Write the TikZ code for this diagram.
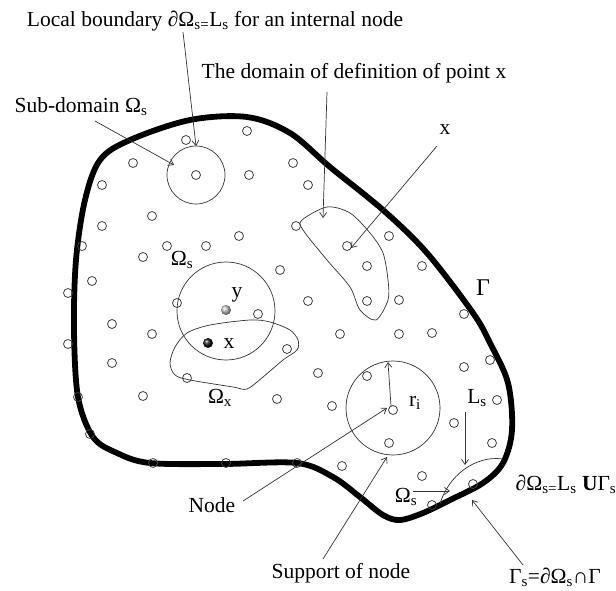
\documentclass[tikz,border=0pt]{standalone}
\usepackage{fontspec}
\setmainfont{Liberation Serif}
\usetikzlibrary{arrows.meta}
\tikzset{
  pt/.style={draw=black!75, line width=0.8pt},
  zone/.style={draw=black!80, line width=0.7pt},
  arr/.style={draw=black!80, line width=0.7pt, -{Straight Barb[length=5pt,width=7pt]}},
  lab/.style={font=\fontsize{21.5}{25}\selectfont, inner sep=0pt},
}
\begin{document}
\begin{tikzpicture}[x=1pt, y=-1pt]
  \useasboundingbox (0,0) rectangle (616,591);
  % Frontera Gamma
  \draw[line width=5.8pt, line join=round] plot[smooth cycle, tension=0.55] coordinates {
    (190,120) (130,140) (100,160) (85,200) (76,260) (74,330) (78,397) (93,437) (117,453)
    (150,463) (223,464) (297,463) (333,477) (360,497) (383,515) (400,520) (423,513)
    (450,500) (483,483) (503,463) (512,430) (508,383) (490,343) (473,313) (427,253)
    (383,210) (330,167) (290,133) (247,117)};
  % Nodos
  \foreach \p in {(186,140),(247,131),(133,163),(196,175),(249,175),(102,185),(152,216),
    (102,226),(82,246),(167,246),(206,246),(239,236),(143,257),(92,281),(68,293),(177,303),
    (258,314),(293,163),(308,185),(296,226),(347,246),(389,236),(367,266),(422,266),
    (280,270),(308,301),(367,301),(399,300),(464,314),(112,324),(152,334),(68,344),
    (287,349),(112,363),(187,378),(143,396),(277,399),(78,397),(90,434),(153,463),
    (226,463),(297,463),(340,334),(399,334),(432,333),(318,373),(367,376),(393,410),
    (332,406),(464,367),(490,360),(497,400),(454,423),(492,443),(389,443),(342,466),
    (422,476),(432,505),(473,484)}
    \draw[pt] \p circle (4.5pt);
  % Subdominio y soporte
  \draw[zone] (196,175) circle (29pt);
  \draw[zone] (226,311) circle (49pt);
  \draw[zone] (393,408) circle (47pt);
  % Dominio Omega_x
  \draw[zone] plot[smooth cycle, tension=0.5] coordinates {
    (170,363) (175,347) (187,333) (210,325) (250,320) (270,322) (290,330) (298,340)
    (297,350) (283,360) (263,377) (247,389) (233,387) (190,380) (175,375)};
  % Dominio de definicion de x
  \draw[zone] plot[smooth cycle, tension=0.5] coordinates {
    (302,220) (327,207) (350,213) (370,233) (383,253) (388,280) (388,300) (376,320)
    (360,310) (350,287) (327,260) (303,230)};
  % Subdominio en la frontera
  \draw[zone] (440,504) .. controls (448,476) and (475,455) .. (503,459);
  % Puntos x e y
  \shade[ball color=gray!50] (226,310) coordinate (ptY) circle (5pt);
  \shade[ball color=black!90] (208,343) coordinate (ptX) circle (5pt);
  % Textos
  \node[lab] (lbLocal) at (215,21) {Local boundary ∂Ω\textsubscript{s=}L\textsubscript{s} for an internal node};
  \node[lab] (lbDomain) at (354,73) {The domain of definition of point x};
  \node[lab] (lbSub) at (81,107) {Sub-domain Ω\textsubscript{s}};
  \node[lab] (lbX) at (445,130) {x};
  \node[lab, font=\fontsize{24}{28}\selectfont] (lbGamma) at (483,288) {Γ};
  \node[lab] (lbOmS) at (182,260) {Ω\textsubscript{s}};
  \node[lab] (lbY) at (237,295) {y};
  \node[lab] (lbXin) at (229,344) {x};
  \node[lab] (lbOmX) at (220,398) {Ω\textsubscript{x}};
  \node[lab] (lbR) at (415,403) {r\textsubscript{i}};
  \node[lab] (lbL) at (477,398) {L\textsubscript{s}};
  \node[lab] (lbBound) at (566,484) {∂Ω\textsubscript{s=}L\textsubscript{s} \textbf{U}Γ\textsubscript{s}};
  \node[lab] (lbOmB) at (406,497) {Ω\textsubscript{s}};
  \node[lab] (lbNode) at (212,505) {Node};
  \node[lab] (lbSupp) at (341,573) {Support of node};
  \node[lab] (lbGs) at (555,577) {Γ\textsubscript{s}=∂Ω\textsubscript{s}∩Γ};
  % Flechas
  \coordinate (tLocal) at (183,32);   \coordinate (hLocal) at (196,146);
  \coordinate (tSub) at (95,121);     \coordinate (hSub) at (174,165);
  \coordinate (tDomain) at (327,92);  \coordinate (hDomain) at (323,218);
  \coordinate (tX) at (437,146);      \coordinate (hX) at (351,248);
  \coordinate (tR) at (391,406);      \coordinate (hR) at (388,362);
  \coordinate (tNode) at (243,501);   \coordinate (hNode) at (387,408);
  \coordinate (tSupp) at (323,559);   \coordinate (hSupp) at (387,457);
  \coordinate (tL) at (465,412);      \coordinate (hL) at (465,465);
  \coordinate (tOmB) at (413,491);    \coordinate (hOmB) at (450,491);
  \coordinate (tGs) at (523,565);     \coordinate (hGs) at (472,500);
  \draw[arr] (tLocal) -- (hLocal);
  \draw[arr] (tSub) -- (hSub);
  \draw[arr] (tDomain) -- (hDomain);
  \draw[arr] (tX) -- (hX);
  \draw[arr] (tR) -- (hR);
  \draw[arr] (tNode) -- (hNode);
  \draw[arr] (tSupp) -- (hSupp);
  \draw[arr] (tL) -- (hL);
  \draw[arr] (tOmB) -- (hOmB);
  \draw[arr] (tGs) -- (hGs);
\end{tikzpicture}
\end{document}
